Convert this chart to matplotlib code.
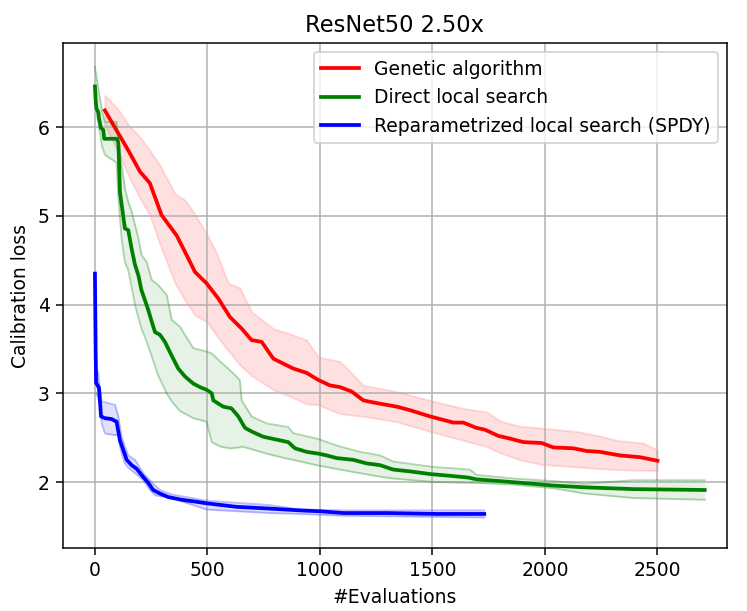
import matplotlib
matplotlib.use("Agg")
import matplotlib.pyplot as plt

# Genetic algorithm (mean + band)
ga_x = [44, 104, 148, 200, 244, 296, 363, 415, 444, 496, 548, 600, 652, 696, 741, 793, 881, 941, 993,
        1044, 1089, 1141, 1193, 1252, 1341, 1400, 1489, 1593, 1637, 1696, 1733, 1793, 1844, 1904, 1985,
        2037, 2126, 2185, 2244, 2333, 2422, 2500]
ga_y = [6.19, 5.93, 5.74, 5.50, 5.37, 5.01, 4.78, 4.52, 4.37, 4.24, 4.07, 3.86, 3.73, 3.60, 3.58, 3.39,
        3.28, 3.23, 3.15, 3.09, 3.07, 3.02, 2.92, 2.89, 2.85, 2.81, 2.74, 2.67, 2.67, 2.61, 2.59, 2.52,
        2.49, 2.45, 2.44, 2.39, 2.38, 2.35, 2.34, 2.30, 2.28, 2.24]
ga_band_x = [44, 104, 148, 200, 244, 289, 356, 400, 444, 496, 541, 593, 644, 696, 793, 881, 941, 993,
             1089, 1193, 1341, 1489, 1637, 1741, 1800, 1889, 1978, 2141, 2244, 2318, 2437, 2500]
ga_hi = [6.36, 6.20, 6.03, 5.89, 5.74, 5.57, 5.25, 5.18, 5.02, 4.80, 4.58, 4.24, 4.19, 3.92, 3.73, 3.66,
         3.60, 3.41, 3.36, 3.09, 3.02, 2.92, 2.83, 2.79, 2.69, 2.63, 2.61, 2.57, 2.52, 2.47, 2.44, 2.36]
ga_lo = [6.02, 5.72, 5.46, 5.20, 5.01, 4.68, 4.24, 4.05, 3.88, 3.81, 3.65, 3.48, 3.32, 3.20, 3.04, 2.95,
         2.88, 2.87, 2.77, 2.74, 2.68, 2.57, 2.47, 2.40, 2.33, 2.25, 2.20, 2.17, 2.15, 2.14, 2.13, 2.13]

# Direct local search
dls_x = [0, 3, 7, 15, 18, 27, 37, 41, 99, 104, 107, 111, 119, 126, 133, 148, 163, 178, 193, 207, 222,
         237, 252, 267, 289, 311, 336, 370, 400, 437, 467, 496, 519, 526, 570, 607, 637, 667, 696, 748,
         822, 859, 889, 941, 993, 1030, 1074, 1148, 1207, 1267, 1326, 1400, 1489, 1578, 1659, 1696,
         1800, 1948, 2037, 2178, 2393, 2710]
dls_y = [6.46, 6.31, 6.21, 6.17, 6.10, 5.99, 5.97, 5.87, 5.87, 5.82, 5.61, 5.27, 5.12, 4.99, 4.86, 4.84,
         4.63, 4.45, 4.33, 4.16, 4.05, 3.94, 3.81, 3.69, 3.66, 3.58, 3.45, 3.28, 3.19, 3.11, 3.07, 3.04,
         3.00, 2.92, 2.85, 2.83, 2.74, 2.61, 2.57, 2.51, 2.47, 2.45, 2.38, 2.34, 2.32, 2.30, 2.27, 2.25,
         2.21, 2.19, 2.14, 2.12, 2.09, 2.07, 2.05, 2.03, 2.01, 1.98, 1.96, 1.94, 1.92, 1.91]
dls_band_x = [0, 30, 44, 96, 104, 119, 133, 148, 163, 178, 193, 207, 230, 252, 281, 319, 341, 378, 437,
              496, 519, 556, 600, 644, 652, 696, 763, 859, 881, 985, 1089, 1178, 1267, 1326, 1504, 1667,
              1696, 1859, 2037, 2178, 2393, 2710]
dls_hi = [6.68, 6.20, 6.06, 6.06, 5.84, 5.57, 5.31, 5.16, 5.05, 4.90, 4.75, 4.56, 4.48, 4.28, 4.22, 4.11,
          3.83, 3.75, 3.51, 3.47, 3.45, 3.36, 3.26, 3.15, 2.92, 2.74, 2.66, 2.62, 2.55, 2.49, 2.40, 2.34,
          2.30, 2.23, 2.17, 2.14, 2.08, 2.04, 2.01, 1.98, 2.02, 2.02]
dls_lo = [6.30, 5.80, 5.69, 5.60, 5.20, 4.73, 4.48, 4.39, 4.20, 4.00, 3.85, 3.73, 3.58, 3.42, 3.20, 3.00,
          2.91, 2.80, 2.72, 2.68, 2.45, 2.40, 2.38, 2.39, 2.40, 2.37, 2.32, 2.26, 2.25, 2.19, 2.14, 2.10,
          2.06, 2.04, 2.00, 1.99, 1.99, 1.97, 1.93, 1.87, 1.82, 1.80]

# Reparametrized local search (SPDY)
spdy_x = [0, 3, 5, 18, 22, 27, 44, 74, 96, 111, 126, 141, 163, 185, 207, 237, 259, 289, 326, 385, 444,
          496, 630, 778, 911, 1000, 1104, 1296, 1519, 1730]
spdy_y = [4.35, 3.50, 3.12, 3.06, 2.92, 2.74, 2.72, 2.71, 2.68, 2.47, 2.36, 2.25, 2.19, 2.15, 2.08, 1.99,
          1.91, 1.87, 1.83, 1.80, 1.78, 1.76, 1.72, 1.70, 1.68, 1.67, 1.65, 1.65, 1.64, 1.64]
spdy_band_x = [5, 15, 22, 30, 44, 59, 89, 104, 111, 119, 133, 148, 178, 215, 244, 267, 289, 341, 496,
               778, 911, 1104, 1730]
spdy_hi = [3.30, 3.23, 3.05, 2.91, 2.90, 2.89, 2.87, 2.74, 2.62, 2.51, 2.40, 2.30, 2.25, 2.10, 2.02, 1.96,
           1.91, 1.86, 1.79, 1.74, 1.69, 1.68, 1.68]
spdy_lo = [3.00, 2.95, 2.87, 2.66, 2.55, 2.54, 2.53, 2.53, 2.40, 2.32, 2.21, 2.16, 2.10, 2.02, 1.91, 1.85,
           1.84, 1.82, 1.69, 1.65, 1.64, 1.62, 1.60]

fig = plt.figure(figsize=(747 / 135, 611 / 135), dpi=135)
ax = fig.add_axes([63 / 747, 1 - 548 / 611, 664 / 747, 505 / 611])

ax.plot(ga_x, ga_y, color="r", lw=2, label="Genetic algorithm")
ax.fill_between(ga_band_x, ga_lo, ga_hi, color="r", alpha=0.12, lw=1)

ax.plot(dls_x, dls_y, color="g", lw=2, label="Direct local search")
ax.fill_between(dls_band_x, dls_lo, dls_hi, color="g", alpha=0.1, lw=0)
ax.plot(dls_band_x, dls_lo, color="g", alpha=0.3, lw=1)
ax.plot(dls_band_x, dls_hi, color="g", alpha=0.3, lw=1)

ax.plot(spdy_x, spdy_y, color="b", lw=2, label="Reparametrized local search (SPDY)")
ax.fill_between(spdy_band_x, spdy_lo, spdy_hi, color="b", alpha=0.12, lw=0)
ax.plot(spdy_band_x, spdy_lo, color="b", alpha=0.25, lw=1)
ax.plot(spdy_band_x, spdy_hi, color="b", alpha=0.25, lw=1)

ax.set_xlim(-142, 2809)
ax.set_ylim(1.256, 6.95)
ax.set_title("ResNet50 2.50x")
ax.set_xlabel("#Evaluations")
ax.set_ylabel("Calibration loss")
ax.grid(True)
ax.legend(loc="upper right")

fig.savefig("out.png", dpi=135)
